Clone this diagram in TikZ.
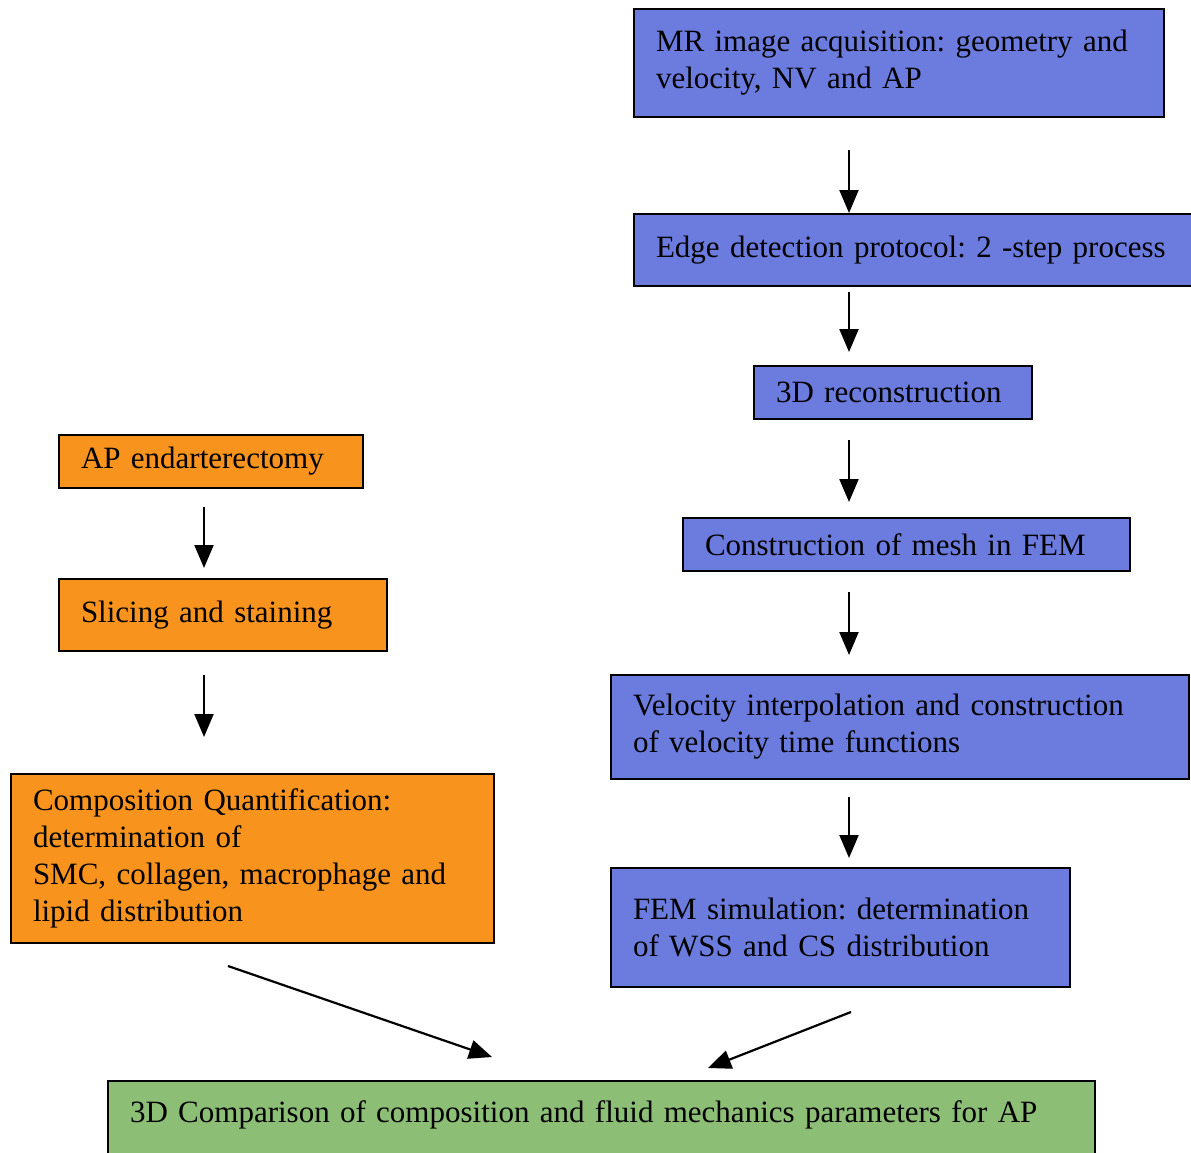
\documentclass[tikz,border=0pt]{standalone}
\usepackage{fontspec}
\setmainfont{Liberation Serif}
\usetikzlibrary{arrows.meta,calc}
\definecolor{boxblue}{RGB}{108,124,222}
\definecolor{boxorange}{RGB}{248,148,30}
\definecolor{boxgreen}{RGB}{140,190,118}
\newcommand\Lline[1]{\mbox{#1}}
\frenchspacing
\begin{document}
\begin{tikzpicture}[x=1pt,y=-1pt,
  box/.style={draw=black, line width=2pt, anchor=north west, inner xsep=22pt, inner ysep=4pt,
    align=left, font=\fontsize{31}{37}\selectfont\frenchspacing},
  arr/.style={-{Triangle[length=23pt,width=19pt]}, line width=2.2pt}]
\useasboundingbox (0,0) rectangle (1191,1153);
% right column (blue)
\node[box, fill=boxblue, minimum width=530pt, minimum height=108pt, text width=486pt] (mr) at (633,8)
  {\Lline{MR image acquisition: geometry and}\\\Lline{velocity, NV and AP}};
\node[box, fill=boxblue, minimum width=570pt, minimum height=72pt, text width=526pt] (edge) at (633,213)
  {\Lline{Edge detection protocol: 2 -step process}};
\node[box, fill=boxblue, minimum width=278pt, minimum height=53pt, text width=234pt] (recon) at (753,365)
  {\Lline{3D reconstruction}};
\node[box, fill=boxblue, minimum width=447pt, minimum height=53pt, text width=403pt] (mesh) at (682,517)
  {\Lline{Construction of mesh in FEM}};
\node[box, fill=boxblue, minimum width=578pt, minimum height=104pt, text width=534pt] (velo) at (610,674)
  {\Lline{Velocity interpolation and construction}\\\Lline{of velocity time functions}};
\node[box, fill=boxblue, minimum width=459pt, minimum height=119pt, text width=415pt] (fem) at (610,867)
  {\Lline{FEM simulation: determination}\\\Lline{of WSS and CS distribution}};
% left column (orange)
\node[box, fill=boxorange, minimum width=304pt, minimum height=53pt, text width=260pt] (endo) at (58,434)
  {\Lline{AP endarterectomy}};
\node[box, fill=boxorange, minimum width=328pt, minimum height=72pt, text width=284pt] (slice) at (58,578)
  {\Lline{Slicing and staining}};
\node[box, fill=boxorange, minimum width=483pt, minimum height=169pt, text width=439pt] (comp) at (10,773)
  {\Lline{Composition Quantification:}\\\Lline{determination of}\\\Lline{SMC, collagen, macrophage and}\\\Lline{lipid distribution}};
% bottom (green)
\node[box, fill=boxgreen, minimum width=987pt, inner ysep=10pt, text height=31pt, text depth=60pt, text width=943pt] (comb) at (107,1080)
  {\Lline{3D Comparison of composition and fluid mechanics parameters for AP}};
% arrows
\coordinate (rx) at (849,0);
\coordinate (lx) at (204,0);
\draw[arr, shorten <=32pt] (mr.south -| rx) -- (edge.north -| rx);
\draw[arr, shorten <=5pt, shorten >=13pt] (edge.south -| rx) -- (recon.north -| rx);
\draw[arr, shorten <=20pt, shorten >=15pt] (recon.south -| rx) -- (mesh.north -| rx);
\draw[arr, shorten <=20pt, shorten >=19pt] (mesh.south -| rx) -- (velo.north -| rx);
\draw[arr, shorten <=17pt, shorten >=9pt] (velo.south -| rx) -- (fem.north -| rx);
\draw[arr, shorten <=18pt, shorten >=10pt] (endo.south -| lx) -- (slice.north -| lx);
\draw[arr, shorten <=23pt, shorten >=36pt] (slice.south -| lx) -- (comp.north -| lx);
\draw[arr] ($(comp.south west)+(218,22)$) -- ($(comb.north west)+(385,-23)$);
\draw[arr] ($(fem.south west)+(241,24)$) -- ($(comb.north west)+(601,-12)$);
\end{tikzpicture}
\end{document}
